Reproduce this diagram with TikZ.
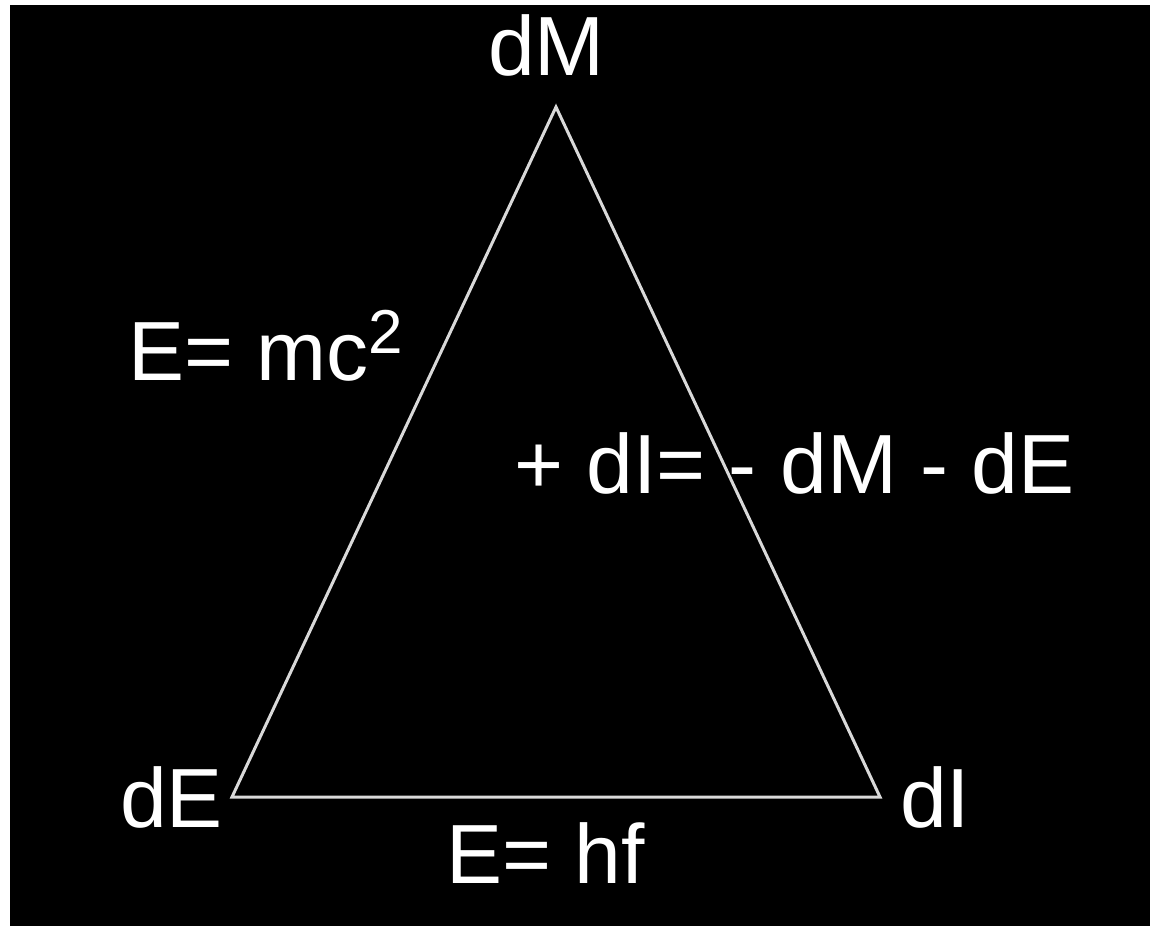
\documentclass[tikz,border=0pt]{standalone}
\usepackage{fontspec}
\setmainfont{Liberation Sans}
\begin{document}
\begin{tikzpicture}[x=1pt,y=-1pt,
  lbl/.style={text=white,inner sep=0pt,anchor=base west,font=\fontsize{84}{84}\selectfont},
  edge/.style={draw=white!85!black,line width=3pt,line join=miter}]
\useasboundingbox (0,0) rectangle (1150,926);
\fill[white] (0,0) rectangle (1150,926);
\fill[black] (10,5) rectangle (1150,926);
\coordinate (A) at (556,107);
\coordinate (B) at (232,797);
\coordinate (C) at (880,797);
\draw[edge] (A) -- (B) -- (C) -- cycle;
\node[lbl] (dM) at (488,75) {dM};
\node[lbl] (emc) at (128,380) {E= mc\raisebox{27pt}{\fontsize{62}{62}\selectfont 2}};
\node[lbl] (mid) at (514,493) {+ dI= - dM - dE};
\node[lbl] (dE) at (120,827) {dE};
\node[lbl] (dI) at (900,827) {dI};
\node[lbl] (ehf) at (446,883) {E= hf};
\end{tikzpicture}
\end{document}
